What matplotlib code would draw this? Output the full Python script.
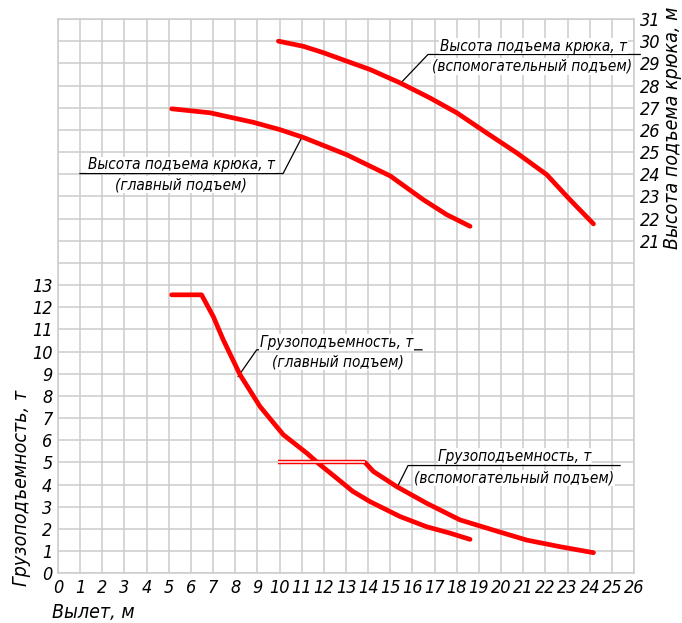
import matplotlib
matplotlib.use("Agg")
import matplotlib.pyplot as plt

# ---------------- data ----------------
x_ticks = list(range(0, 27))
cap_ticks = list(range(0, 14))
height_ticks = list(range(21, 32))

# hook height, auxiliary hoist (m)
aux_h_x = [9.95, 11.07, 11.98, 13.03, 14.09, 15.44, 16.79, 18.0, 19.35, 20.71, 22.06, 23.11, 24.17]
aux_h_y = [30.0, 29.77, 29.48, 29.1, 28.72, 28.12, 27.44, 26.77, 25.86, 24.96, 23.98, 22.85, 21.76]

# hook height, main hoist (m)
main_h_x = [5.13, 6.86, 8.82, 10.02, 11.07, 13.03, 15.0, 16.49, 17.54, 18.6]
main_h_y = [26.95, 26.77, 26.34, 26.01, 25.66, 24.88, 23.92, 22.85, 22.18, 21.65]

# lifting capacity, main hoist (t)
main_c_x = [5.13, 6.48, 7.01, 7.46, 8.22, 9.12, 10.17, 11.23, 11.8, 12.58, 13.3, 14.09, 15.44, 16.64, 17.7, 18.6]
main_c_y = [12.56, 12.56, 11.58, 10.53, 8.95, 7.52, 6.25, 5.42, 4.92, 4.29, 3.7, 3.23, 2.56, 2.1, 1.81, 1.53]

# lifting capacity, auxiliary hoist (t)
aux_flat_x = [9.95, 13.86]
aux_flat_y = [5.0, 5.0]
aux_c_x = [13.86, 14.24, 15.29, 16.64, 18.14, 19.65, 21.15, 22.66, 24.17]
aux_c_y = [5.0, 4.59, 3.91, 3.16, 2.41, 1.95, 1.5, 1.2, 0.93]

label_h = "Высота подъема крюка, т"
label_c = "Грузоподъемность, т"
sub_main = "(главный подъем)"
sub_aux = "(вспомогательный подъем)"
xlabel = "Вылет, м"
ylabel_left = "Грузоподъемность, т"
ylabel_right = "Высота подъема крюка, м"

# ---------------- figure ----------------
plt.rcParams['font.family'] = ['DejaVu Sans']
plt.rcParams['font.stretch'] = 'condensed'
plt.rcParams['font.style'] = 'italic'

fig = plt.figure(figsize=(6.82, 6.23), dpi=100)
ax = fig.add_axes([58 / 682, 1 - 573.3 / 623, 576 / 682, (573.3 - 19) / 623])
ax.set_xlim(0, 26)
ax.set_ylim(0, 25)
ax.set_xticks(x_ticks)
ax.grid(True, color='#cccccc', linewidth=1.1)
ax.set_axisbelow(True)
for s in ax.spines.values():
    s.set_color('#cccccc')
    s.set_linewidth(1.1)
ax.tick_params(length=0, labelsize=13, pad=4)
ax.set_xticklabels([str(v) for v in x_ticks])
ax.set_yticks(range(0, 26))
ax.set_yticklabels([str(v) if v in cap_ticks else '' for v in range(0, 26)])

ax2 = ax.twinx()
ax2.set_ylim(6, 31)
ax2.set_yticks(height_ticks)
ax2.set_yticklabels([str(v) for v in height_ticks])
ax2.tick_params(length=0, labelsize=13, pad=4)
for s in ax2.spines.values():
    s.set_visible(False)

RED = '#ff0000'
LW = 3.4
KW = dict(color=RED, lw=LW, solid_capstyle='round', solid_joinstyle='round', zorder=3)
ax2.plot(aux_h_x, aux_h_y, **KW)
ax2.plot(main_h_x, main_h_y, **KW)
ax2.plot(main_c_x, [v + 6 for v in main_c_y], **KW)
ax2.plot(aux_c_x, [v + 6 for v in aux_c_y], **KW)
ax2.plot(aux_flat_x, [v + 6 for v in aux_flat_y], color=RED, lw=3.2, solid_capstyle='butt', zorder=3)
ax2.plot(aux_flat_x, [v + 6 for v in aux_flat_y], color='white', lw=1.1, solid_capstyle='butt', zorder=3.1)

# ---------------- annotations (in left-axis units) ----------------
TXT = dict(fontsize=11, ha='center', va='center', zorder=6,
           bbox=dict(facecolor='white', edgecolor='none', pad=0.5))
LL = dict(color='black', lw=0.9, zorder=5, clip_on=False)

# main height
ax.plot([0.99, 10.16, 11.0], [18.03, 18.03, 19.65], **LL)
ax.text(5.58, 18.42, label_h, **TXT)
ax.text(5.55, 17.53, sub_main, **TXT)

# aux height
ax.plot([15.49, 16.7, 26.28], [22.13, 23.4, 23.4], **LL)
ax.text(21.47, 23.78, label_h, **TXT)
ax.text(21.4, 22.86, sub_aux, **TXT)

# main capacity
ax.plot([8.13, 8.97, 16.43], [8.88, 10.08, 10.08], **LL)
ax.text(12.57, 10.42, label_c, **TXT)
ax.text(12.62, 9.55, sub_main, **TXT)

# aux capacity
ax.plot([15.29, 15.8, 25.37], [3.84, 4.86, 4.86], **LL)
ax.text(20.63, 5.28, label_c, **TXT)
ax.text(20.59, 4.3, sub_aux, **TXT)

# axis titles
fig.text(52 / 682, 1 - 613 / 623, xlabel, fontsize=14, ha='left', va='center')
fig.text(22 / 682, 1 - 488 / 623, ylabel_left, fontsize=14, rotation=90,
         ha='center', va='center')
fig.text(672 / 682, 1 - 128 / 623, ylabel_right, fontsize=14, rotation=90,
         ha='center', va='center')

fig.savefig('out.png', dpi=100)
